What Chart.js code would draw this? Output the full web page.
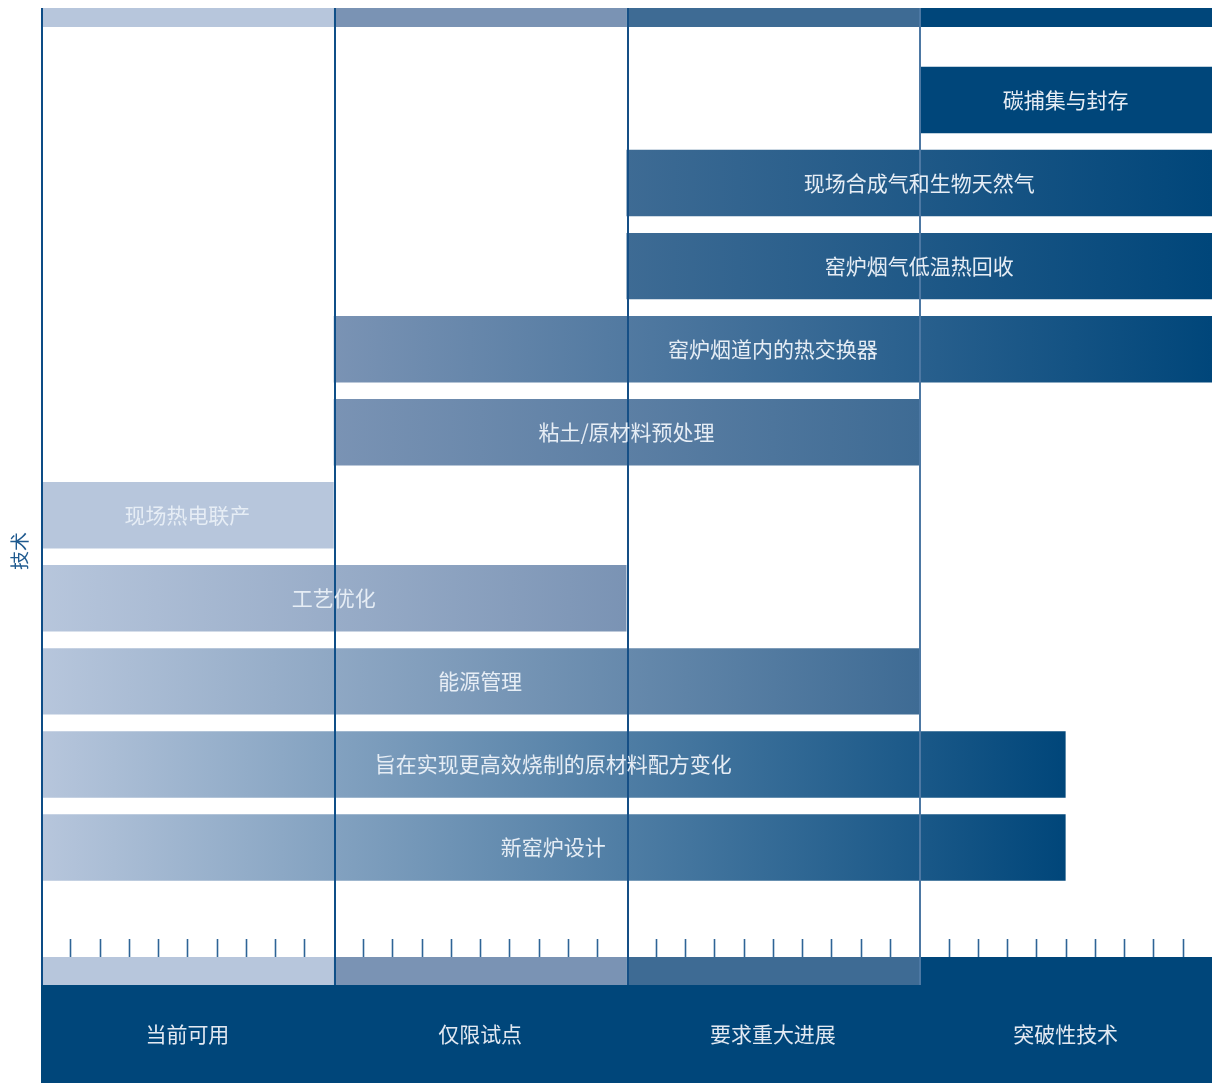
<!DOCTYPE html>
<html lang="zh">
<head>
<meta charset="utf-8">
<title>技术成熟度</title>
<script src="https://cdn.jsdelivr.net/npm/chart.js@4.4.1/dist/chart.umd.min.js"></script>
<style>
  html, body { margin: 0; padding: 0; background: #ffffff; }
  #wrap { width: 1212px; height: 1083px; }
</style>
</head>
<body>
<div id="wrap"><canvas id="chart" width="1212" height="1083"></canvas></div>
<script>
// Maturity stages (x axis, one unit per stage)
const stages = ['当前可用', '仅限试点', '要求重大进展', '突破性技术'];
const stageColors = ['#b7c6dc', '#7a93b4', '#3e6b94', '#00467a'];
const stageLineColors = ['#0d4c86', '#0f4f88', '#154f86', '#4d78a3'];

// Technologies, listed top to bottom
const techs = [
  '碳捕集与封存',
  '现场合成气和生物天然气',
  '窑炉烟气低温热回收',
  '窑炉烟道内的热交换器',
  '粘土/原材料预处理',
  '现场热电联产',
  '工艺优化',
  '能源管理',
  '旨在实现更高效烧制的原材料配方变化',
  '新窑炉设计'
];
// Span of each technology along the stage axis
const spanStart = [3, 2, 2, 1, 1, 0, 0, 0, 0, 0];
const spanEnd   = [4, 4, 4, 4, 3, 1, 2, 3, 3.5, 3.5];

const yAxisTitle = '技术';
const minorTicksPerStage = 10;

const CJK = '"Noto Sans CJK SC", "Noto Sans", sans-serif';

function barGradient(ctx) {
  const chart = ctx.chart;
  if (!chart.chartArea || ctx.type !== 'data') return stageColors[0];
  const i = ctx.dataIndex;
  const xs = chart.scales.x;
  const s = spanStart[i], e = spanEnd[i];
  const x0 = xs.getPixelForValue(s), x1 = xs.getPixelForValue(e);
  const c0 = stageColors[Math.floor(s)];
  const c1 = stageColors[Math.ceil(e) - 1];
  const g = chart.ctx.createLinearGradient(x0, 0, x1, 0);
  g.addColorStop(0, c0);
  g.addColorStop(1, c1);
  return g;
}

// Stage bands, minor ticks, footer box and stage labels
const frame = {
  id: 'frame',
  beforeDatasetsDraw(chart) {
    const { ctx, scales: { x } } = chart;
    const W = chart.width;
    ctx.save();
    // top stage band
    stages.forEach((s, k) => {
      const a = x.getPixelForValue(k), b = x.getPixelForValue(k + 1);
      ctx.fillStyle = stageColors[k];
      ctx.fillRect(a, 8, b - a, 19);
    });
    // bottom stage band
    stages.forEach((s, k) => {
      const a = x.getPixelForValue(k), b = x.getPixelForValue(k + 1);
      ctx.fillStyle = stageColors[k];
      ctx.fillRect(a, 957, b - a, 28);
    });
    // footer box
    ctx.fillStyle = '#00467a';
    ctx.fillRect(x.getPixelForValue(0), 985, W - x.getPixelForValue(0), 98);
    // minor ticks
    ctx.strokeStyle = '#2e6496';
    ctx.lineWidth = 1.6;
    for (let k = 0; k < stages.length * minorTicksPerStage; k++) {
      if (k % minorTicksPerStage === 0) continue;
      const px = Math.round(x.getPixelForValue(k / minorTicksPerStage)) + 0.5;
      ctx.beginPath();
      ctx.moveTo(px, 939);
      ctx.lineTo(px, 957);
      ctx.stroke();
    }
    ctx.restore();
  },
  afterDatasetsDraw(chart) {
    const { ctx, scales: { x, y } } = chart;
    ctx.save();
    // stage dividers
    ctx.lineWidth = 2;
    stages.forEach((s, k) => {
      const px = Math.round(x.getPixelForValue(k)) + 1;
      ctx.strokeStyle = stageLineColors[k];
      ctx.beginPath();
      ctx.moveTo(px, 8);
      ctx.lineTo(px, 985);
      ctx.stroke();
    });
    // bar labels
    ctx.font = '21px ' + CJK;
    ctx.textAlign = 'center';
    ctx.textBaseline = 'middle';
    ctx.fillStyle = '#e6edf5';
    techs.forEach((t, i) => {
      const cx = x.getPixelForValue((spanStart[i] + spanEnd[i]) / 2);
      const cy = y.getPixelForValue(i);
      ctx.fillText(t, cx, cy);
    });
    // stage labels in the footer
    ctx.fillStyle = '#e2e9f2';
    stages.forEach((s, k) => {
      ctx.fillText(s, x.getPixelForValue(k + 0.5), 1034);
    });
    // y axis title
    ctx.translate(20, 551);
    ctx.rotate(-Math.PI / 2);
    ctx.fillStyle = '#1f5a8f';
    ctx.font = '19px ' + CJK;
    ctx.fillText(yAxisTitle, 0, 0);
    ctx.restore();
  }
};

new Chart(document.getElementById('chart'), {
  type: 'bar',
  data: {
    labels: techs,
    datasets: [{
      data: spanStart.map((s, i) => [s, spanEnd[i]]),
      backgroundColor: barGradient,
      borderWidth: 0,
      categoryPercentage: 1,
      barPercentage: 0.8
    }]
  },
  options: {
    indexAxis: 'y',
    responsive: false,
    devicePixelRatio: 1,
    animation: false,
    layout: { padding: { left: 41, right: 0, top: 58.5, bottom: 194 } },
    scales: {
      x: { type: 'linear', min: 0, max: stages.length, display: false },
      y: { type: 'category', display: false, offset: true }
    },
    plugins: {
      legend: { display: false },
      tooltip: { enabled: false }
    }
  },
  plugins: [frame]
});
</script>
</body>
</html>
